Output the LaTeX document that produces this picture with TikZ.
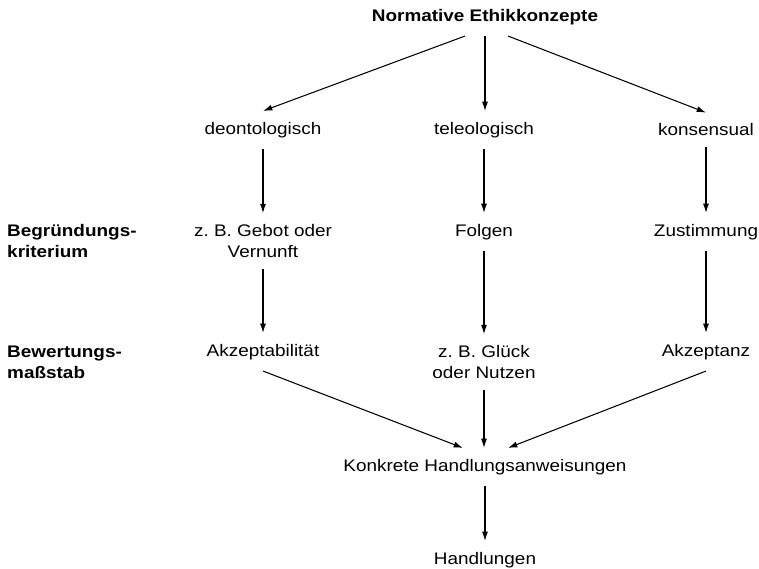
\documentclass[tikz,border=0pt]{standalone}
\usepackage{fontspec}
\setmainfont[FakeStretch=1.13]{Liberation Sans}
\frenchspacing
\usepackage{tikz}
\usetikzlibrary{positioning}
\usetikzlibrary{arrows.meta}
\tikzset {
  >={Latex[length=2.8mm, width=1.8mm]},
  % plain text node of the scheme
  konzept/.style = {inner sep=0.33cm, align=center,
    font=\fontsize{14.3pt}{17.9pt}\selectfont},
  % bold head line
  kopf/.style = {konzept, font=\bfseries\fontsize{14.3pt}{17.9pt}\selectfont},
  % row labels on the left
  zeile/.style = {inner sep=0pt, anchor=west, align=left,
    font=\bfseries\fontsize{14.3pt}{17.9pt}\selectfont},
  % arrows between the nodes
  pfeil/.style = {->, line width=0.9pt},
}
\begin{document}
\begin{tikzpicture}
  \useasboundingbox (0, 0) rectangle (22.77, -17.07);

  \node[kopf] (ethik) at (14.55, -0.51) {Normative Ethikkonzepte};

  \node[konzept] (deon) at (7.89, -3.9) {deontologisch};
  \node[konzept] (teleo) at (14.52, -3.9) {teleologisch};
  \node[konzept] (konsens) at (21.18, -3.9) {konsensual};

  \node[zeile] (begr) at (0.21, -7.23) {Begründungs-\\kriterium};
  \node[konzept] (gebot) at (7.89, -7.23) {z. B. Gebot oder\\Vernunft};
  \node[konzept] (folgen) at (14.52, -6.96) {Folgen};
  \node[konzept] (zustimm) at (21.18, -6.96) {Zustimmung};

  \node[zeile] (bewert) at (0.21, -10.86) {Bewertungs-\\maßstab};
  \node[konzept] (akzbar) at (7.89, -10.56) {Akzeptabilität};
  \node[konzept] (glueck) at (14.52, -10.86) {z. B. Glück\\oder Nutzen};
  \node[konzept] (akzanz) at (21.18, -10.56) {Akzeptanz};

  \node[konzept] (konkret) at (14.55, -14.01) {Konkrete Handlungsanweisungen};
  \node[konzept] (handl) at (14.55, -16.8) {Handlungen};

  \draw [pfeil] ([xshift=-0.6cm]ethik.south) -- (deon.north);
  \draw [pfeil] (ethik.south) -- (ethik.south |- teleo.north);
  \draw [pfeil] ([xshift=0.69cm]ethik.south) -- (konsens.north);

  \draw [pfeil] (deon) -- (gebot);
  \draw [pfeil] (teleo) -- (folgen);
  \draw [pfeil] (konsens) -- (zustimm);

  \draw [pfeil] (gebot) -- (akzbar);
  \draw [pfeil] (folgen) -- (glueck);
  \draw [pfeil] (zustimm) -- (akzanz);

  \draw [pfeil] (akzbar.south) -- ([xshift=-0.66cm]konkret.north);
  \draw [pfeil] (glueck) -- (glueck |- konkret.north);
  \draw [pfeil] (akzanz.south) -- ([xshift=0.69cm]konkret.north);

  \draw [pfeil] (konkret) -- (handl);
\end{tikzpicture}
\end{document}
